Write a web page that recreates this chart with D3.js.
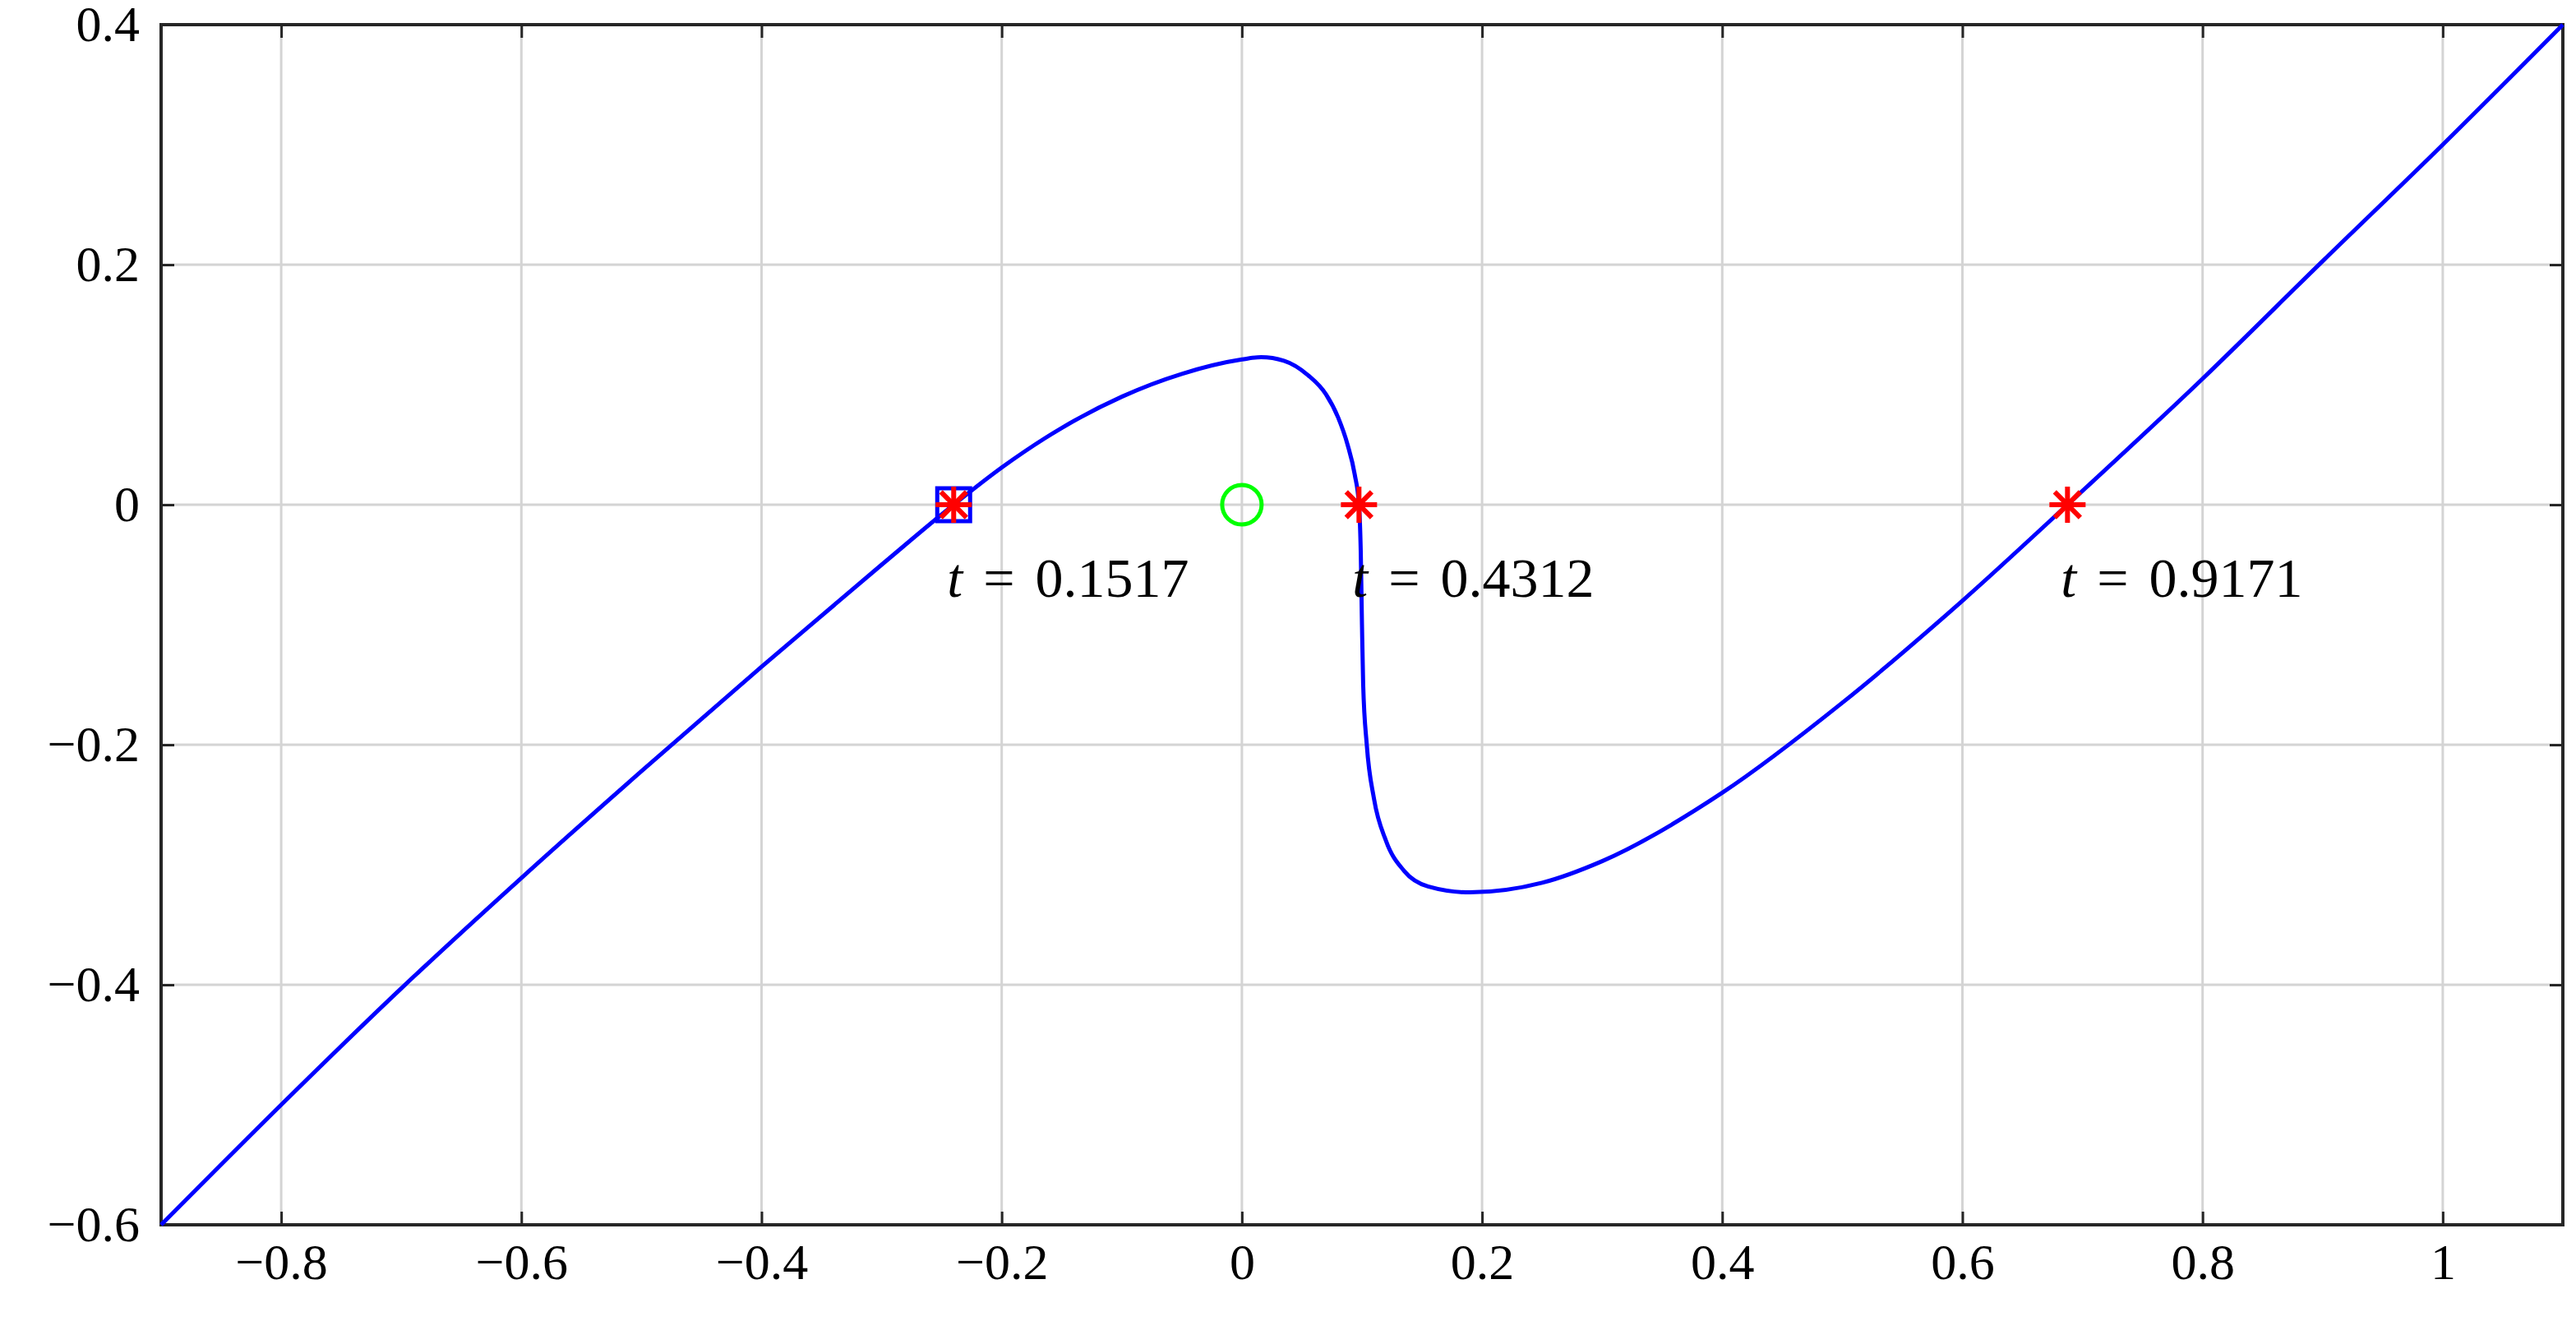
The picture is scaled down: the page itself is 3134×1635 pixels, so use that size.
<!DOCTYPE html>
<html><head><meta charset="utf-8">
<script src="https://cdn.jsdelivr.net/npm/d3@7"></script>
<style>body{margin:0;background:#fff}</style>
</head><body><svg></svg>
<script>
const curveX = [-0.9,-0.8,-0.7,-0.6,-0.5,-0.4,-0.3,-0.24,-0.2,-0.15,-0.1,-0.05,0,0.016,0.035,0.055,0.07,0.08,0.088,0.094,0.0975,0.099,0.1,0.101,0.104,0.11,0.12,0.135,0.155,0.19,0.25,0.3,0.4,0.5,0.6,0.6875,0.8,0.9,1.0,1.1];
const curveY = [-0.6,-0.5,-0.403,-0.311,-0.222,-0.135,-0.05,0,0.031,0.064,0.09,0.109,0.121,0.123,0.12,0.108,0.092,0.073,0.05,0.025,0,-0.04,-0.1,-0.15,-0.2,-0.245,-0.28,-0.305,-0.318,-0.323,-0.315,-0.297,-0.24,-0.165,-0.08,0,0.105,0.203,0.3,0.4];
const starX = [-0.24, 0.0975, 0.6875];
const labels = ['0.1517','0.4312','0.9171'];
const squareX = -0.24, circleX = 0;
const xTicks = [-0.8,-0.6,-0.4,-0.2,0,0.2,0.4,0.6,0.8,1];
const yTicks = [-0.6,-0.4,-0.2,0,0.2,0.4];

const W = 3134, H = 1635, m = {l:196, r:16, t:30, b:145};
const svg = d3.select('svg').attr('width', W).attr('height', H);
const x = d3.scaleLinear().domain([-0.9,1.1]).range([m.l, W-m.r]);
const y = d3.scaleLinear().domain([-0.6,0.4]).range([H-m.b, m.t]);
const font = '"Liberation Serif", serif';
const fmt = d => (d < 0 ? '\u2212' : '') + String(Math.abs(d));

// grid
svg.append('g').selectAll('line').data(xTicks).join('line')
  .attr('x1', d => x(d)).attr('x2', d => x(d)).attr('y1', m.t).attr('y2', H-m.b)
  .attr('stroke', '#d4d4d4').attr('stroke-width', 3);
svg.append('g').selectAll('line').data(yTicks).join('line')
  .attr('y1', d => y(d)).attr('y2', d => y(d)).attr('x1', m.l).attr('x2', W-m.r)
  .attr('stroke', '#d4d4d4').attr('stroke-width', 3);

// axes
const axB = svg.append('g').attr('transform', `translate(0,${H-m.b})`)
  .call(d3.axisBottom(x).tickValues(xTicks).tickFormat(fmt).tickSize(-16).tickPadding(22));
const axT = svg.append('g').attr('transform', `translate(0,${m.t})`)
  .call(d3.axisTop(x).tickValues(xTicks).tickFormat('').tickSize(-16));
const axL = svg.append('g').attr('transform', `translate(${m.l},0)`)
  .call(d3.axisLeft(y).tickValues(yTicks).tickFormat(fmt).tickSize(-16).tickPadding(26));
const axR = svg.append('g').attr('transform', `translate(${W-m.r},0)`)
  .call(d3.axisRight(y).tickValues(yTicks).tickFormat('').tickSize(-16));
[axB, axT, axL, axR].forEach(a => {
  a.select('.domain').remove();
  a.selectAll('line').attr('stroke', '#262626').attr('stroke-width', 3);
  a.selectAll('text').attr('font-family', font).attr('font-size', 62).attr('fill', '#000');
});
svg.append('rect').attr('x', m.l).attr('y', m.t).attr('width', W-m.l-m.r).attr('height', H-m.t-m.b)
  .attr('fill', 'none').attr('stroke', '#262626').attr('stroke-width', 4);

// curve
const pts = curveX.map((d, i) => [d, curveY[i]]);
svg.append('path').datum(pts)
  .attr('d', d3.line().x(d => x(d[0])).y(d => y(d[1])).curve(d3.curveMonotoneX))
  .attr('fill', 'none').attr('stroke', '#0000ff').attr('stroke-width', 5);

// markers
svg.append('rect').attr('x', x(squareX)-20).attr('y', y(0)-20).attr('width', 40).attr('height', 40)
  .attr('fill', 'none').attr('stroke', '#0000ff').attr('stroke-width', 5);
svg.append('circle').attr('cx', x(circleX)).attr('cy', y(0)).attr('r', 24)
  .attr('fill', 'none').attr('stroke', '#00ff00').attr('stroke-width', 5);
const star = svg.append('g').selectAll('g').data(starX).join('g')
  .attr('transform', d => `translate(${x(d)},${y(0)})`);
[0, 45, 90, 135].forEach(a => {
  star.append('line').attr('x1', -22).attr('x2', 22).attr('transform', `rotate(${a})`)
    .attr('stroke', '#ff0000').attr('stroke-width', 6);
});

// labels
const lab = svg.append('g').selectAll('text').data(starX).join('text')
  .attr('x', d => x(d) - 8).attr('y', y(0) + 112)
  .attr('font-family', font).attr('font-size', 68);
lab.append('tspan').attr('font-style', 'italic').text('t');
lab.append('tspan').attr('word-spacing', 8).text((d, i) => ' = ' + labels[i]);
</script></body></html>
